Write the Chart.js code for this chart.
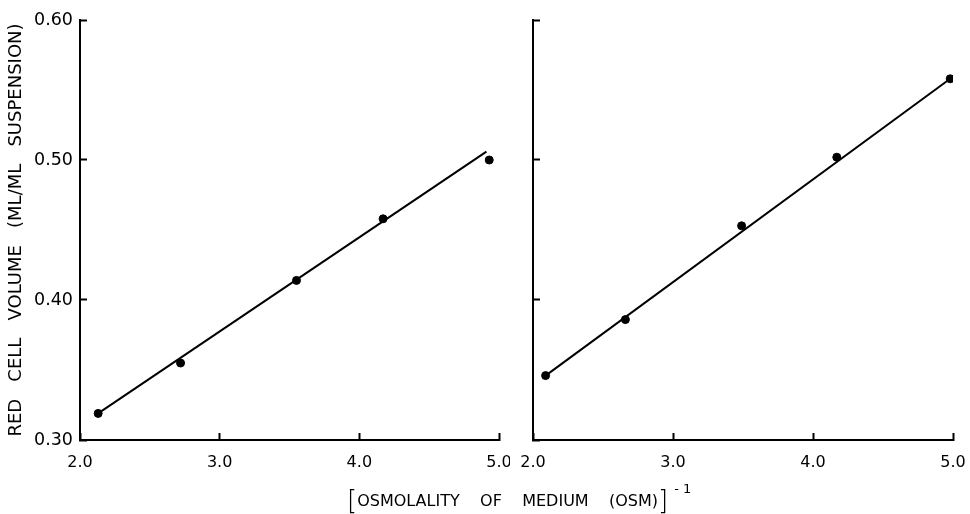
<!DOCTYPE html>
<html>
<head>
<meta charset="utf-8">
<script src="https://cdn.jsdelivr.net/npm/chart.js@4/dist/chart.umd.min.js"></script>
<style>
  body { margin: 0; background: #fff; }
  #wrap { position: relative; width: 970px; height: 514px; background: #fff; }
  #leftBox { position: absolute; left: 0; top: 0; width: 510px; height: 514px; }
  #rightBox { position: absolute; left: 505px; top: 0; width: 465px; height: 514px; }
  #xTitle {
    position: absolute; left: 347px; top: 490px;
    font-family: "DejaVu Sans", sans-serif; font-size: 16px; color: #000;
    white-space: pre; line-height: 20px;
  }
  #xTitle .br { font-size: 26px; font-weight: 300; vertical-align: -3px; }
  #xTitle sup { font-size: 13px; position: relative; top: -13px; vertical-align: baseline; margin-left: 6px; }
</style>
</head>
<body>
<div id="wrap">
  <div id="leftBox"><canvas id="leftChart"></canvas></div>
  <div id="rightBox"><canvas id="rightChart"></canvas></div>
  <div id="xTitle"><span class="br">[</span>OSMOLALITY    OF    MEDIUM    (OSM)<span class="br">]</span><sup>- 1</sup></div>
</div>
<script>
// left panel
const leftX = [2.13, 2.72, 3.55, 4.17, 4.93];
const leftY = [0.319, 0.355, 0.414, 0.458, 0.500];
const leftFitX = [2.13, 4.91];
const leftFitY = [0.319, 0.506];

// right panel
const rightX = [2.09, 2.66, 3.49, 4.17, 4.98];
const rightY = [0.346, 0.386, 0.453, 0.502, 0.558];
const rightFitX = [2.09, 4.98];
const rightFitY = [0.346, 0.558];

const xTicks = [2.0, 3.0, 4.0, 5.0];
const yTicks = [0.30, 0.40, 0.50, 0.60];
const yTitle = 'RED   CELL   VOLUME   (ML/ML   SUSPENSION)';

Chart.defaults.font.family = '"DejaVu Sans", sans-serif';
Chart.defaults.color = '#000';

function toPoints(xs, ys) {
  return xs.map((x, i) => ({x: x, y: ys[i]}));
}

function configString(px, py, fx, fy, showYLabels, yWidth, padRight) {
  const config = {
    type: 'scatter',
    data: {
      datasets: [{
        data: toPoints(px, py),
        backgroundColor: '#000',
        borderColor: '#000',
        pointRadius: 4,
        pointHoverRadius: 4
      }, {
        data: toPoints(fx, fy),
        showLine: true,
        borderColor: '#000',
        borderWidth: 2,
        pointRadius: 0,
        fill: false
      }]
    },
    options: {
      responsive: false,
      animation: false,
      events: [],
      layout: { padding: { top: 20, right: padRight, bottom: 0, left: 0 } },
      plugins: {
        legend: { display: false },
        tooltip: { enabled: false }
      },
      scales: {
        x: {
          type: 'linear',
          min: 2.0,
          max: 5.0,
          afterBuildTicks: (scale) => { scale.ticks = xTicks.map(v => ({value: v})); },
          afterFit: (scale) => { scale.height = 74; scale.paddingLeft = 0; scale.paddingRight = 0; },
          border: { color: '#000', width: 2 },
          grid: { drawOnChartArea: false, tickLength: -7, tickWidth: 2, color: '#000' },
          ticks: {
            padding: 20,
            font: { size: 16 },
            maxRotation: 0,
            callback: (v) => v.toFixed(1)
          }
        },
        y: {
          type: 'linear',
          min: 0.30,
          max: 0.60,
          afterBuildTicks: (scale) => { scale.ticks = yTicks.map(v => ({value: v})); },
          afterFit: (scale) => { scale.width = yWidth; scale.paddingTop = 0; scale.paddingBottom = 0; },
          border: { color: '#000', width: 2 },
          grid: { drawOnChartArea: false, tickLength: -7, tickWidth: 2, color: '#000' },
          ticks: {
            display: showYLabels,
            padding: 14,
            font: { size: 17.5 },
            callback: (v) => v.toFixed(2)
          },
          title: {
            display: showYLabels,
            text: yTitle,
            font: { size: 18 },
            padding: { top: 6, bottom: 0 }
          }
        }
      }
    }
  };
  return config;
}

const leftCanvas = document.getElementById('leftChart');
leftCanvas.width = 510;
leftCanvas.height = 514;
const leftChart = new Chart(leftCanvas, configString(leftX, leftY, leftFitX, leftFitY, true, 80, 11));

const rightCanvas = document.getElementById('rightChart');
rightCanvas.width = 465;
rightCanvas.height = 514;
const rightChart = new Chart(rightCanvas, configString(rightX, rightY, rightFitX, rightFitY, false, 28, 17));
</script>
</body>
</html>
